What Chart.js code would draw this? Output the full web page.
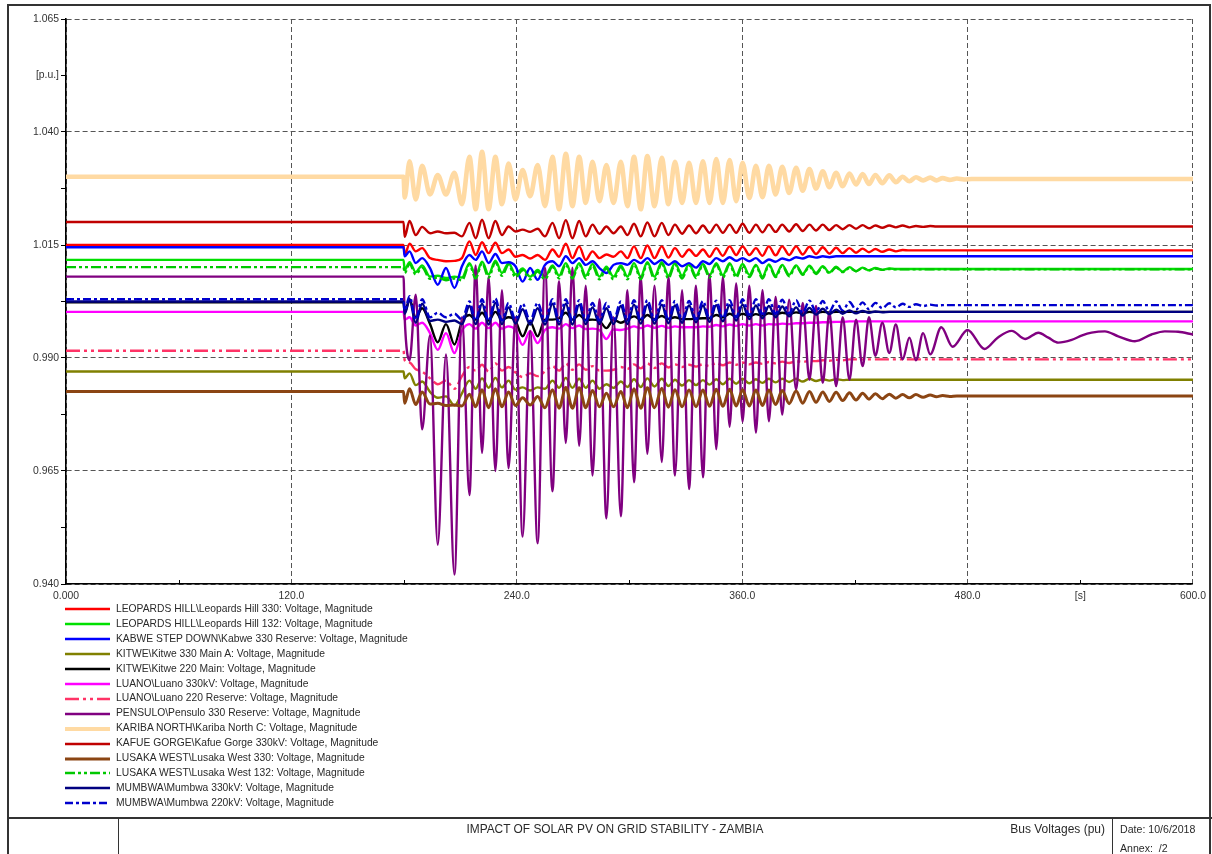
<!DOCTYPE html>
<html>
<head>
<meta charset="utf-8">
<title>Bus Voltages (pu)</title>
<script src="https://cdn.jsdelivr.net/npm/chart.js@4.4.1/dist/chart.umd.min.js"></script>
<style>
  html, body { margin: 0; padding: 0; background: #fff; }
  #page { position: relative; width: 1212px; height: 854px; overflow: hidden;
          font-family: "Liberation Sans", Arial, sans-serif; color: #2a2a2a; }
  #plot { position: absolute; left: 0; top: 0; }
  .rule { position: absolute; background: #333; }
  #legend { position: absolute; left: 65px; top: 602px; font-size: 10.3px; }
  .item { height: 14.92px; line-height: 14.92px; white-space: nowrap; display: flex; align-items: center; }
  .item svg { width: 46px; height: 10px; margin-right: 5px; flex: none; }
  .tb { position: absolute; font-size: 11px; white-space: nowrap; line-height: 14px; }
</style>
</head>
<body>
<div id="page">
  <canvas id="plot" width="1212" height="610"></canvas>
  <div id="legend"></div>

  <!-- page frame and title block -->
  <div class="rule" style="left:7px; top:4px; width:1.5px; height:850px;"></div>
  <div class="rule" style="left:7px; top:4px; width:1203px; height:1.5px;"></div>
  <div class="rule" style="left:1209px; top:4px; width:1.5px; height:850px;"></div>
  <div class="rule" style="left:7px; top:817px; width:1205px; height:2px;"></div>
  <div class="rule" style="left:118px; top:818px; width:1px; height:36px;"></div>
  <div class="rule" style="left:1112px; top:818px; width:1px; height:36px;"></div>
  <div class="tb" style="left:118px; width:994px; top:822px; text-align:center; font-size:11.9px;">IMPACT OF SOLAR PV ON GRID STABILITY - ZAMBIA</div>
  <div class="tb" style="left:1000px; width:105px; top:822px; text-align:right; font-size:12px;">Bus Voltages (pu)</div>
  <div class="tb" style="left:1120px; top:822px; font-size:10.6px;">Date: 10/6/2018</div>
  <div class="tb" style="left:1120px; top:841px; font-size:10.6px;">Annex:&nbsp;&nbsp;/2</div>
</div>

<script>
// ---- time axis shared by the oscillating records [s] ----
const timeGrid = [0, 179.7, 180.3, 182.9, 186.2, 189.6, 193.8, 197.9, 202.3, 206.8, 210.8,
  214.8, 218.1, 221.5, 225.0, 228.6, 232.1, 235.6, 239.3, 243.1, 247.1,
  251.1, 255.0, 259.0, 262.5, 266.1, 269.6, 273.2, 276.7, 280.3, 284.0,
  287.7, 291.5, 295.4, 298.9, 302.4, 306.0, 309.5, 313.3, 317.2, 320.7,
  324.2, 328.0, 331.7, 335.4, 339.1, 342.6, 346.2, 349.7, 353.3, 356.8,
  360.2, 363.8, 367.3, 370.8, 374.2, 377.8, 381.3, 385.0, 388.7, 392.2,
  395.8, 399.3, 402.9, 406.4, 410.0, 413.5, 417.1, 420.6, 424.1, 427.5,
  430.9, 434.6, 438.3, 441.8, 445.4, 449.0, 452.5, 456.3, 460.1, 463.4,
  466.7, 470.5, 474.3, 478.2, 482.2];
const simEnd = 600;

// ---- bus voltage magnitudes [p.u.] on timeGrid ----
const leopardsHill330 = [1.0150, 1.0150, 1.0128,
  1.0153, 1.0136, 1.0143, 1.0121, 1.0117, 1.0114, 1.0115, 1.0121,
  1.0158, 1.0128, 1.0156, 1.0132, 1.0155, 1.0132, 1.0140, 1.0124, 1.0128, 1.0120,
  1.0128, 1.0117, 1.0140, 1.0124, 1.0153, 1.0121, 1.0147, 1.0117, 1.0136, 1.0121,
  1.0129, 1.0124, 1.0136, 1.0121, 1.0147, 1.0121, 1.0149, 1.0121, 1.0147, 1.0122,
  1.0143, 1.0124, 1.0140, 1.0126, 1.0140, 1.0124, 1.0143, 1.0126, 1.0147, 1.0128,
  1.0147, 1.0128, 1.0143, 1.0126, 1.0147, 1.0127, 1.0147, 1.0128, 1.0147, 1.0129,
  1.0146, 1.0130, 1.0145, 1.0131, 1.0144, 1.0132, 1.0143, 1.0133, 1.0142, 1.0134,
  1.0141, 1.0135, 1.0140, 1.0136, 1.0139, 1.0138];

const leopardsHill132 = [1.0117, 1.0117, 1.0095,
  1.0112, 1.0090, 1.0105, 1.0080, 1.0082, 1.0077, 1.0080, 1.0078,
  1.0110, 1.0082, 1.0113, 1.0085, 1.0115, 1.0088, 1.0110, 1.0085, 1.0098, 1.0080,
  1.0095, 1.0080, 1.0105, 1.0082, 1.0110, 1.0082, 1.0110, 1.0082, 1.0108, 1.0080,
  1.0102, 1.0080, 1.0105, 1.0080, 1.0110, 1.0080, 1.0112, 1.0080, 1.0112, 1.0082,
  1.0110, 1.0082, 1.0108, 1.0082, 1.0108, 1.0083, 1.0110, 1.0083, 1.0110, 1.0083,
  1.0108, 1.0084, 1.0106, 1.0080, 1.0107, 1.0082, 1.0106, 1.0084, 1.0105, 1.0086,
  1.0104, 1.0088, 1.0103, 1.0089, 1.0102, 1.0091, 1.0101, 1.0092, 1.0100, 1.0094,
  1.0099, 1.0095, 1.0098, 1.0097];

const kabwe330 = [1.0145, 1.0145, 1.0125,
  1.0136, 1.0110, 1.0121, 1.0099, 1.0062, 1.0099, 1.0055, 1.0103,
  1.0128, 1.0117, 1.0136, 1.0110, 1.0130, 1.0110, 1.0112, 1.0103, 1.0069, 1.0099,
  1.0073, 1.0106, 1.0114, 1.0103, 1.0125, 1.0110, 1.0121, 1.0106, 1.0114, 1.0099,
  1.0088, 1.0106, 1.0110, 1.0106, 1.0117, 1.0110, 1.0121, 1.0108, 1.0117, 1.0106,
  1.0114, 1.0103, 1.0110, 1.0100, 1.0114, 1.0108, 1.0121, 1.0114, 1.0123, 1.0115,
  1.0121, 1.0114, 1.0121, 1.0110, 1.0118, 1.0113, 1.0120, 1.0116, 1.0123, 1.0120,
  1.0125, 1.0122, 1.0125, 1.0123, 1.0125];

const kitwe330 = [0.9870, 0.9870, 0.9855,
  0.9866, 0.9840, 0.9848, 0.9825, 0.9812, 0.9815, 0.9795, 0.9822,
  0.9850, 0.9832, 0.9855, 0.9834, 0.9856, 0.9835, 0.9850, 0.9830, 0.9835, 0.9828,
  0.9835, 0.9832, 0.9850, 0.9834, 0.9856, 0.9834, 0.9854, 0.9834, 0.9850, 0.9832,
  0.9842, 0.9834, 0.9848, 0.9836, 0.9853, 0.9836, 0.9855, 0.9837, 0.9854, 0.9838,
  0.9852, 0.9839, 0.9851, 0.9840, 0.9851, 0.9841, 0.9853, 0.9842, 0.9854, 0.9843,
  0.9854, 0.9844, 0.9853, 0.9845, 0.9854, 0.9846, 0.9854, 0.9847, 0.9854, 0.9848,
  0.9854, 0.9849, 0.9853, 0.9850, 0.9853, 0.9851, 0.9852];

const kitwe220 = [1.0023, 1.0023, 1.0000,
  1.0030, 0.9990, 1.0010, 0.9975, 0.9935, 0.9975, 0.9930, 0.9980,
  0.9995, 0.9985, 1.0000, 0.9983, 1.0002, 0.9985, 0.9990, 0.9982, 0.9948, 0.9980,
  0.9948, 0.9985, 0.9985, 0.9988, 1.0000, 0.9985, 0.9995, 0.9984, 0.9985, 0.9982,
  0.9966, 0.9985, 0.9978, 0.9985, 0.9992, 0.9985, 0.9995, 0.9986, 0.9993, 0.9986,
  0.9990, 0.9986, 0.9986, 0.9987, 0.9988, 0.9988, 0.9995, 0.9990, 0.9998, 0.9991,
  0.9998, 0.9993, 0.9997, 0.9994, 0.9999, 0.9996, 1.0000, 0.9998, 1.0001, 0.9999,
  1.0002, 1.0000, 1.0002, 1.0001, 1.0002];

const luano330 = [1.0002, 1.0002, 0.9985,
  0.9990, 0.9972, 0.9978, 0.9955, 0.9918, 0.9955, 0.9911, 0.9960,
  0.9975, 0.9965, 0.9978, 0.9966, 0.9978, 0.9965, 0.9970, 0.9962, 0.9929, 0.9960,
  0.9933, 0.9962, 0.9968, 0.9965, 0.9975, 0.9966, 0.9972, 0.9964, 0.9965, 0.9962,
  0.9942, 0.9963, 0.9962, 0.9965, 0.9970, 0.9966, 0.9972, 0.9967, 0.9971, 0.9967,
  0.9970, 0.9968, 0.9968, 0.9968, 0.9970, 0.9969, 0.9973, 0.9970, 0.9974, 0.9971,
  0.9975, 0.9972, 0.9975, 0.9972, 0.9975, 0.9974, 0.9976, 0.9975, 0.9977, 0.9977,
  0.9978, 0.9978, 0.9979, 0.9979, 0.9980, 0.9980, 0.9981];

const luano220 = [0.9916, 0.9916, 0.9895,
  0.9890, 0.9875, 0.9870, 0.9855, 0.9842, 0.9850, 0.9832, 0.9860,
  0.9880, 0.9872, 0.9885, 0.9870, 0.9888, 0.9872, 0.9880, 0.9868, 0.9858, 0.9866,
  0.9860, 0.9870, 0.9882, 0.9872, 0.9888, 0.9874, 0.9886, 0.9874, 0.9882, 0.9872,
  0.9872, 0.9874, 0.9880, 0.9876, 0.9886, 0.9877, 0.9888, 0.9878, 0.9888, 0.9879,
  0.9886, 0.9880, 0.9885, 0.9881, 0.9886, 0.9882, 0.9889, 0.9884, 0.9890, 0.9885,
  0.9890, 0.9886, 0.9890, 0.9887, 0.9891, 0.9888, 0.9892, 0.9889, 0.9893, 0.9891,
  0.9894, 0.9893, 0.9895, 0.9894, 0.9896, 0.9895, 0.9897];

const pensulo330 = [1.0080, 1.0080, 0.9990,
  0.9895, 1.0040, 0.9742, 0.9950, 0.9487, 0.9908, 0.9421, 0.9990,
  0.9597, 1.0105, 0.9690, 1.0080, 0.9650, 1.0050, 0.9656, 0.9990, 0.9505, 0.9960,
  0.9490, 1.0100, 0.9605, 1.0070, 0.9712, 1.0100, 0.9706, 1.0060, 0.9640, 1.0030,
  0.9545, 0.9990, 0.9550, 1.0050, 0.9625, 1.0080, 0.9688, 1.0060, 0.9670, 1.0080,
  0.9640, 1.0050, 0.9610, 1.0060, 0.9636, 1.0085, 0.9698, 1.0080, 0.9748, 1.0065,
  0.9759, 1.0060, 0.9735, 1.0050, 0.9760, 1.0035, 0.9775, 1.0029, 0.9830, 1.0022,
  0.9852, 1.0015, 0.9845, 1.0000, 0.9838, 0.9990, 0.9852, 0.9985, 0.9882, 0.9990,
  0.9905, 0.9978, 0.9911, 0.9974, 0.9897];
// slower swing of Pensulo after the main mode has died out
const pensuloTailTime = [449.0, 452.5, 456.3, 460.1, 466.0, 472.0, 480.0, 489.0, 496.0, 503.5,
  510.6, 517.7, 523.0, 528.3, 535.4, 541.0, 546.0, 553.1, 560.2, 569.1,
  577.9, 585.0, 592.1, 600.0];
const pensuloTailValue = [0.9945, 0.9895, 0.9955, 0.9908, 0.9968, 0.9925, 0.9962, 0.9920, 0.9945, 0.9960,
  0.9942, 0.9956, 0.9945, 0.9934, 0.9940, 0.9950, 0.9956, 0.9959, 0.9948, 0.9937,
  0.9952, 0.9959, 0.9958, 0.9952];

const karibaNorth = [1.0301, 1.0301, 1.0255,
  1.0335, 1.0251, 1.0325, 1.0262, 1.0305, 1.0262, 1.0310, 1.0240,
  1.0345, 1.0229, 1.0356, 1.0229, 1.0345, 1.0240, 1.0330, 1.0251, 1.0316, 1.0258,
  1.0327, 1.0236, 1.0345, 1.0229, 1.0352, 1.0236, 1.0345, 1.0243, 1.0334, 1.0247,
  1.0327, 1.0243, 1.0334, 1.0236, 1.0345, 1.0229, 1.0347, 1.0236, 1.0343, 1.0240,
  1.0334, 1.0243, 1.0332, 1.0243, 1.0335, 1.0243, 1.0340, 1.0243, 1.0338, 1.0247,
  1.0332, 1.0254, 1.0325, 1.0256, 1.0325, 1.0262, 1.0323, 1.0265, 1.0321, 1.0270,
  1.0318, 1.0275, 1.0313, 1.0278, 1.0310, 1.0280, 1.0308, 1.0284, 1.0307, 1.0285,
  1.0305, 1.0287, 1.0304, 1.0289, 1.0301, 1.0291, 1.0300, 1.0293, 1.0299, 1.0293,
  1.0298, 1.0294, 1.0297, 1.0295, 1.0296];

const kafueGorge330 = [1.0201, 1.0201, 1.0168,
  1.0203, 1.0172, 1.0190, 1.0176, 1.0180, 1.0176, 1.0177, 1.0169,
  1.0199, 1.0165, 1.0206, 1.0165, 1.0203, 1.0172, 1.0191, 1.0180, 1.0184, 1.0179,
  1.0186, 1.0169, 1.0199, 1.0165, 1.0205, 1.0165, 1.0203, 1.0169, 1.0195, 1.0175,
  1.0191, 1.0176, 1.0191, 1.0172, 1.0197, 1.0169, 1.0200, 1.0169, 1.0199, 1.0172,
  1.0195, 1.0175, 1.0193, 1.0176, 1.0193, 1.0177, 1.0195, 1.0177, 1.0195, 1.0177,
  1.0197, 1.0177, 1.0195, 1.0178, 1.0195, 1.0179, 1.0195, 1.0180, 1.0196, 1.0181,
  1.0195, 1.0182, 1.0195, 1.0183, 1.0194, 1.0185, 1.0194, 1.0186, 1.0194, 1.0187,
  1.0193, 1.0188, 1.0193, 1.0189, 1.0193, 1.0189, 1.0192, 1.0190, 1.0192, 1.0191,
  1.0191];

const lusakaWest330 = [0.9826, 0.9826, 0.9800,
  0.9832, 0.9797, 0.9825, 0.9798, 0.9800, 0.9795, 0.9796, 0.9794,
  0.9820, 0.9792, 0.9830, 0.9790, 0.9832, 0.9792, 0.9825, 0.9795, 0.9812, 0.9796,
  0.9815, 0.9790, 0.9830, 0.9789, 0.9835, 0.9789, 0.9834, 0.9790, 0.9828, 0.9792,
  0.9822, 0.9792, 0.9826, 0.9790, 0.9832, 0.9789, 0.9834, 0.9790, 0.9833, 0.9791,
  0.9830, 0.9792, 0.9829, 0.9792, 0.9829, 0.9793, 0.9831, 0.9793, 0.9831, 0.9794,
  0.9830, 0.9794, 0.9829, 0.9795, 0.9829, 0.9797, 0.9828, 0.9799, 0.9827, 0.9800,
  0.9826, 0.9802, 0.9825, 0.9804, 0.9824, 0.9806, 0.9823, 0.9807, 0.9822, 0.9809,
  0.9821, 0.9810, 0.9820, 0.9811, 0.9819, 0.9812, 0.9819, 0.9813, 0.9818, 0.9814,
  0.9817, 0.9815, 0.9816];

const lusakaWest132 = [1.0101, 1.0101, 1.0088,
  1.0108, 1.0085, 1.0100, 1.0075, 1.0078, 1.0072, 1.0076, 1.0072,
  1.0106, 1.0076, 1.0110, 1.0078, 1.0112, 1.0082, 1.0106, 1.0079, 1.0094, 1.0074,
  1.0091, 1.0074, 1.0102, 1.0076, 1.0107, 1.0076, 1.0107, 1.0076, 1.0104, 1.0074,
  1.0098, 1.0074, 1.0101, 1.0074, 1.0107, 1.0074, 1.0109, 1.0074, 1.0109, 1.0076,
  1.0107, 1.0076, 1.0105, 1.0077, 1.0105, 1.0078, 1.0107, 1.0078, 1.0107, 1.0078,
  1.0105, 1.0079, 1.0104, 1.0076, 1.0105, 1.0079, 1.0104, 1.0081, 1.0103, 1.0084,
  1.0102, 1.0086, 1.0101, 1.0088, 1.0100, 1.0090, 1.0099, 1.0092, 1.0099, 1.0094,
  1.0098, 1.0095, 1.0097, 1.0096];

const mumbwa330 = [1.0025, 1.0025, 0.9998,
  1.0028, 0.9978, 1.0020, 0.9982, 0.9985, 0.9980, 0.9983, 0.9975,
  1.0015, 0.9975, 1.0020, 0.9974, 1.0022, 0.9975, 1.0012, 0.9976, 1.0008, 0.9974,
  1.0010, 0.9974, 1.0020, 0.9974, 1.0020, 0.9974, 1.0018, 0.9975, 1.0012, 0.9975,
  1.0010, 0.9975, 1.0015, 0.9975, 1.0018, 0.9976, 1.0018, 0.9976, 1.0018, 0.9977,
  1.0016, 0.9978, 1.0016, 0.9979, 1.0016, 0.9980, 1.0017, 0.9981, 1.0017, 0.9983,
  1.0018, 0.9986, 1.0016, 0.9988, 1.0015, 0.9990, 1.0014, 0.9992, 1.0012, 0.9994,
  1.0011, 0.9996, 1.0009, 0.9997, 1.0007, 0.9998, 1.0005, 0.9999, 1.0004, 1.0000,
  1.0003, 1.0001, 1.0002];

const mumbwa220 = [1.0030, 1.0030, 1.0005,
  1.0037, 0.9985, 1.0030, 0.9990, 1.0000, 0.9990, 0.9998, 0.9985,
  1.0025, 0.9983, 1.0030, 0.9982, 1.0032, 0.9983, 1.0022, 0.9985, 1.0020, 0.9982,
  1.0022, 0.9982, 1.0030, 0.9982, 1.0030, 0.9982, 1.0028, 0.9983, 1.0022, 0.9983,
  1.0022, 0.9983, 1.0025, 0.9983, 1.0028, 0.9983, 1.0028, 0.9984, 1.0028, 0.9984,
  1.0026, 0.9985, 1.0026, 0.9986, 1.0026, 0.9987, 1.0027, 0.9988, 1.0028, 0.9990,
  1.0030, 0.9995, 1.0030, 0.9997, 1.0030, 0.9998, 1.0029, 0.9999, 1.0028, 1.0000,
  1.0027, 1.0002, 1.0026, 1.0003, 1.0025, 1.0005, 1.0024, 1.0007, 1.0023, 1.0008,
  1.0022, 1.0010, 1.0021, 1.0012, 1.0020, 1.0013, 1.0019, 1.0015, 1.0018, 1.0016,
  1.0017];

// ---- names shown in the legend ----
const seriesNames = [
  'LEOPARDS HILL\\Leopards Hill 330: Voltage, Magnitude',
  'LEOPARDS HILL\\Leopards Hill 132: Voltage, Magnitude',
  'KABWE STEP DOWN\\Kabwe 330 Reserve: Voltage, Magnitude',
  'KITWE\\Kitwe 330 Main A: Voltage, Magnitude',
  'KITWE\\Kitwe 220 Main: Voltage, Magnitude',
  'LUANO\\Luano 330kV: Voltage, Magnitude',
  'LUANO\\Luano 220 Reserve: Voltage, Magnitude',
  'PENSULO\\Pensulo 330 Reserve: Voltage, Magnitude',
  'KARIBA NORTH\\Kariba North C: Voltage, Magnitude',
  'KAFUE GORGE\\Kafue Gorge 330kV: Voltage, Magnitude',
  'LUSAKA WEST\\Lusaka West 330: Voltage, Magnitude',
  'LUSAKA WEST\\Lusaka West 132: Voltage, Magnitude',
  'MUMBWA\\Mumbwa 330kV: Voltage, Magnitude',
  'MUMBWA\\Mumbwa 220kV: Voltage, Magnitude'
];

// ---- axis ticks ----
const xMajorTicks = [0, 120, 240, 360, 480, 600];
const yMajorTicks = [0.940, 0.965, 0.990, 1.015, 1.040, 1.065];
const xUnitLabel = '[s]';
const yUnitLabel = '[p.u.]';

// ---- line styles, in legend order ----
const lineStyles = [
  { color: '#ff0000', width: 2.4, dash: [] },
  { color: '#00e000', width: 2.4, dash: [] },
  { color: '#0000ff', width: 2.4, dash: [] },
  { color: '#808000', width: 2.4, dash: [] },
  { color: '#000000', width: 2.4, dash: [] },
  { color: '#ff00ff', width: 2.4, dash: [] },
  { color: '#ff3366', width: 2.4, dash: [14, 4, 3, 4, 3, 4] },
  { color: '#800080', width: 2.4, dash: [] },
  { color: '#ffdaa3', width: 4.6, dash: [] },
  { color: '#c00000', width: 2.4, dash: [] },
  { color: '#8b4513', width: 3.0, dash: [] },
  { color: '#00c800', width: 2.4, dash: [10, 3, 3, 3, 3, 3] },
  { color: '#000080', width: 2.4, dash: [] },
  { color: '#0000cd', width: 2.4, dash: [8, 3, 3, 3] }
];

const seriesValues = [leopardsHill330, leopardsHill132, kabwe330, kitwe330, kitwe220,
  luano330, luano220, pensulo330, karibaNorth, kafueGorge330, lusakaWest330,
  lusakaWest132, mumbwa330, mumbwa220];

// values sit on timeGrid; a record that has settled keeps its last value to the end
function toPoints(values, tailTime, tailValue) {
  const pts = values.map((v, i) => ({ x: timeGrid[i], y: v }));
  if (tailTime) {
    tailTime.forEach((t, i) => pts.push({ x: t, y: tailValue[i] }));
  } else if (pts[pts.length - 1].x < simEnd) {
    pts.push({ x: simEnd, y: values[values.length - 1] });
  }
  return pts;
}

const datasets = seriesValues.map((vals, i) => ({
  label: seriesNames[i],
  data: vals === pensulo330 ? toPoints(vals, pensuloTailTime, pensuloTailValue) : toPoints(vals),
  borderColor: lineStyles[i].color,
  borderWidth: lineStyles[i].width,
  borderDash: lineStyles[i].dash,
  pointRadius: 0,
  fill: false,
  order: seriesValues.length - i
}));

const key = v => Math.round(v * 10000);
const isXMajor = v => xMajorTicks.some(t => key(t) === key(v));
const isYMajor = v => yMajorTicks.some(t => key(t) === key(v));

// short inward ticks between the labelled times
const minorXTicks = {
  id: 'minorXTicks',
  afterDraw(chart) {
    const { ctx, scales: { x }, chartArea } = chart;
    ctx.save();
    ctx.strokeStyle = '#000';
    ctx.lineWidth = 1;
    x.ticks.forEach(t => {
      if (isXMajor(t.value)) return;
      const px = Math.round(x.getPixelForValue(t.value)) + 0.5;
      ctx.beginPath();
      ctx.moveTo(px, chartArea.bottom);
      ctx.lineTo(px, chartArea.bottom - 4);
      ctx.stroke();
    });
    ctx.restore();
  }
};

const tickFont = { family: '"Liberation Sans", Arial, sans-serif', size: 10.4 };

new Chart(document.getElementById('plot'), {
  type: 'line',
  data: { datasets },
  options: {
    responsive: false,
    animation: false,
    events: [],
    layout: { padding: { left: 0, top: 19, right: 17, bottom: 0 } },
    plugins: { legend: { display: false }, tooltip: { enabled: false } },
    elements: { line: { cubicInterpolationMode: 'monotone', borderJoinStyle: 'round', borderCapStyle: 'butt' } },
    scales: {
      x: {
        type: 'linear', min: 0, max: 600,
        afterFit(s) { s.height = 26; },
        ticks: {
          stepSize: 60, autoSkip: false, maxRotation: 0, padding: 6,
          color: '#333', font: tickFont,
          callback: v => key(v) === key(540) ? xUnitLabel : (isXMajor(v) ? (v === 0 ? '0.000' : v.toFixed(1)) : '')
        },
        grid: { drawTicks: false, lineWidth: 1, color: c => isXMajor(c.tick.value) ? '#555' : 'rgba(0,0,0,0)' },
        border: { display: true, color: '#000', width: 1.6, dash: [5, 3] }
      },
      y: {
        type: 'linear', min: 0.940, max: 1.065,
        afterFit(s) { s.width = 66; },
        ticks: {
          stepSize: 0.0125, autoSkip: false, padding: 2,
          color: '#333', font: tickFont,
          callback: v => key(v) === key(1.0525) ? yUnitLabel : (isYMajor(v) ? v.toFixed(3) : '')
        },
        grid: {
          drawTicks: true, tickLength: 5, tickColor: '#000', tickWidth: 1, lineWidth: 1,
          color: c => isYMajor(c.tick.value) ? '#555' : 'rgba(0,0,0,0)'
        },
        border: { display: true, color: '#000', width: 1.6, dash: [5, 3] }
      }
    }
  },
  plugins: [minorXTicks]
});

// legend: one row per record, same order as the datasets
const legend = document.getElementById('legend');
seriesNames.forEach((name, i) => {
  const st = lineStyles[i];
  const row = document.createElement('div');
  row.className = 'item';
  const dash = st.dash.length ? st.dash.join(' ') : 'none';
  row.innerHTML = '<svg viewBox="0 0 46 10"><line x1="0" y1="5" x2="45" y2="5" stroke="' + st.color +
    '" stroke-width="' + Math.min(st.width, 4) + '" stroke-dasharray="' + dash + '"/></svg>';
  const span = document.createElement('span');
  span.textContent = name;
  row.appendChild(span);
  legend.appendChild(row);
});
</script>
</body>
</html>
